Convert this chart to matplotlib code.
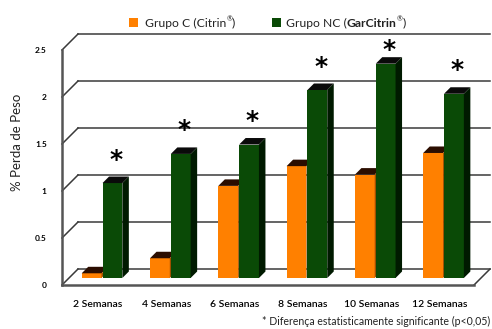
import numpy as np
import matplotlib
matplotlib.use("Agg")
import matplotlib.pyplot as plt
from matplotlib.patches import Polygon
from matplotlib.transforms import ScaledTranslation

# % weight loss per week, two groups
weeks = ["2 Semanas", "4 Semanas", "6 Semanas", "8 Semanas", "10 Semanas", "12 Semanas"]
grupo_c = [0.05, 0.21, 0.98, 1.19, 1.10, 1.33]
grupo_nc = [1.01, 1.32, 1.42, 2.00, 2.28, 1.96]
y_ticks = [0, 0.5, 1, 1.5, 2, 2.5]
y_tick_labels = ["0", "0.5", "1", "1.5", "2", "2.5"]

plt.rcParams["font.family"] = ["Lato", "DejaVu Sans"]

DPI = 100
W, H = 492, 329
fig = plt.figure(figsize=(W / DPI, H / DPI), dpi=DPI)
# front plane of the 3D box, in pixels
left, right, bottom, top = 62, 474, H - 285, H - 50
ax = fig.add_axes([left / W, bottom / H, (right - left) / W, (top - bottom) / H])
xlim = (-0.476, 5.556)
ax.set_xlim(*xlim)
ax.set_ylim(0, 2.5)

px_x = (right - left) / (xlim[1] - xlim[0])   # pixels per x unit
px_y = (top - bottom) / 2.5                   # pixels per y unit


def depth(px):
    return ax.transData + ScaledTranslation(px / DPI, px / DPI, fig.dpi_scale_trans)


# walls: back gridlines, left wall diagonals, floor
wall = 16
back = depth(wall)
for v in y_ticks:
    ax.plot(xlim, [v, v], color="#3a3a3a", lw=1.1, transform=back, clip_on=False, zorder=1)
    ax.plot([xlim[0], xlim[0] + wall / px_x], [v, v + wall / px_y],
            color="#3a3a3a", lw=1.1, clip_on=False, zorder=1)
ax.plot([xlim[1], xlim[1] + wall / px_x], [0, wall / px_y],
        color="#3a3a3a", lw=1.1, clip_on=False, zorder=1)

# bars sit a little behind the front plane
bar_tr = depth(7)
dx = 6.5 / px_x
dy = 6.5 / px_y
bw = 0.29
x = np.arange(len(weeks))


def bar3d(x0, h, front, topc, side):
    ax.bar(x0, h, width=bw, align="edge", color=front, transform=bar_tr,
           clip_on=False, zorder=3)
    x1 = x0 + bw
    ax.add_patch(Polygon([(x0, h), (x1, h), (x1 + dx, h + dy), (x0 + dx, h + dy)],
                         closed=True, facecolor=topc, edgecolor="none",
                         transform=bar_tr, clip_on=False, zorder=3))
    ax.add_patch(Polygon([(x1, 0), (x1 + dx, dy), (x1 + dx, h + dy), (x1, h)],
                         closed=True, facecolor=side, edgecolor="none",
                         transform=bar_tr, clip_on=False, zorder=3))


for i in x:
    bar3d(i - bw, grupo_c[i], "#FF8000", "#2B0D00", "#A04E00")
    bar3d(i + 0.015, grupo_nc[i], "#0A4A06", "#0A0A0A", "#001A00")
    # significance mark above the GarCitrin bar, kept inside the box
    ax.text(i + 0.015 + bw / 2 + dx / 2, min(grupo_nc[i] + 0.25, 2.43), "*",
            ha="center", va="center", fontsize=18, fontweight="bold",
            family="DejaVu Sans", transform=bar_tr, zorder=4)

# front axis lines
for s in ["top", "right"]:
    ax.spines[s].set_visible(False)
ax.spines["left"].set_color("#555555")
ax.spines["left"].set_linewidth(1.8)
ax.spines["bottom"].set_color("#555555")
ax.spines["bottom"].set_linewidth(1.8)
ax.patch.set_visible(False)

ax.set_yticks(y_ticks)
ax.set_yticklabels(y_tick_labels, fontsize=6, fontweight="bold")
ax.set_xticks(x + 0.05)
ax.set_xticklabels(weeks, fontsize=7.5, fontweight="semibold")
ax.tick_params(axis="y", length=0, pad=11)
ax.tick_params(axis="x", length=0, pad=10.5)

fig.text(17.5 / W, 1 - 142 / H, "% Perda de Peso", rotation=90,
         ha="center", va="center", fontsize=9.5, color="#222222")

# legend
ly = 1 - 23 / H
fig.patches.append(plt.Rectangle((129 / W, 1 - 26.5 / H), 9 / W, 9 / H,
                                 facecolor="#FF8000", transform=fig.transFigure))
fig.patches.append(plt.Rectangle((271.5 / W, 1 - 26.5 / H), 9.5 / W, 9 / H,
                                 facecolor="#0A4A06", transform=fig.transFigure))


def legend_text(x0, pieces):
    first = fig.text(x0, ly, pieces[0][0], fontsize=8.7, va="center",
                     fontweight=pieces[0][1], color="#222222")
    prev = first
    for txt, wt, size, rise in pieces[1:]:
        prev = ax.annotate(txt, xy=(1, rise), xycoords=(prev, first), fontsize=size,
                           va="bottom", ha="left", fontweight=wt, color="#222222",
                           annotation_clip=False)


legend_text(145 / W, [("Grupo C (Citrin", "normal"),
                      ("®", "normal", 5, 0.55),
                      (")", "normal", 8.7, 0)])
legend_text(286 / W, [("Grupo NC (", "normal"),
                      ("GarCitrin", "bold", 8.7, 0),
                      ("®", "normal", 5, 0.55),
                      (")", "normal", 8.7, 0)])

fig.text(490 / W, 1 - 321 / H, "* Diferença estatisticamente significante (p<0,05)",
         ha="right", va="center", fontsize=7.6, color="#222222")

fig.savefig("out.png", dpi=DPI)
